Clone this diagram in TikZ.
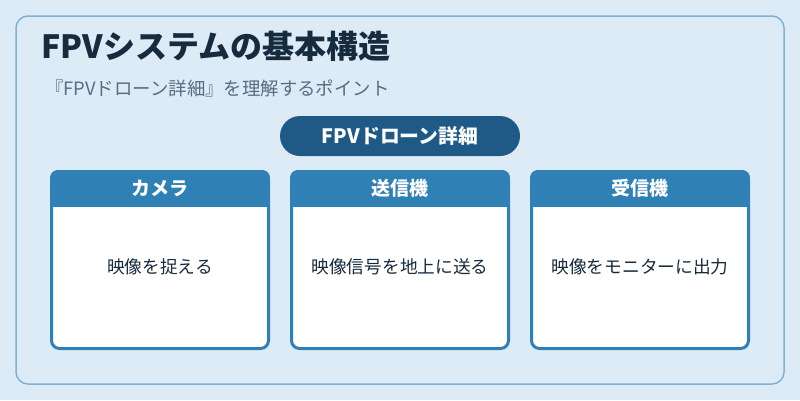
\documentclass[tikz,border=0pt]{standalone}
\usepackage{fontspec}
\setmainfont{Noto Sans CJK JP}
\usetikzlibrary{positioning}
\definecolor{bgblue}{RGB}{221,235,246}
\definecolor{edgeblue}{RGB}{126,178,214}
\definecolor{inkdark}{RGB}{22,43,61}
\definecolor{inkgray}{RGB}{84,110,130}
\definecolor{pillblue}{RGB}{31,90,135}
\definecolor{cardblue}{RGB}{46,128,181}
\begin{document}
\begin{tikzpicture}[x=1pt,y=-1pt,
	card/.style={draw=cardblue,line width=3pt,fill=white,rounded corners=8pt,minimum width=217pt,minimum height=177pt,inner sep=0pt},
	hdr/.style={font=\bfseries\fontsize{19}{22}\selectfont,text=white},
	body/.style={font=\fontsize{17.7}{20}\selectfont,text=inkdark}]
	\fill[bgblue] (0,0) rectangle (800,400);
	\draw[edgeblue,line width=1.5pt,rounded corners=12pt] (16,16) rectangle (784,384);
	\node[anchor=base west,inner sep=0pt,text=inkdark,font=\bfseries\fontsize{32}{36}\selectfont] (title) at (41,58) {FPVシステムの基本構造};
	\node[anchor=base west,inner sep=0pt,text=inkgray,font=\fontsize{18.4}{21}\selectfont] (sub) at (45,95) {『FPVドローン詳細』を理解するポイント};
	\node[fill=pillblue,rounded corners=20pt,minimum width=240pt,minimum height=40pt,text=white,font=\bfseries\fontsize{19.8}{22}\selectfont] (drone) at (400,136) {FPVドローン詳細};
	\foreach \n/\x/\h/\b in {cam/160/カメラ/映像を捉える,tx/400/送信機/映像信号を地上に送る,rx/640/受信機/映像をモニターに出力}{
		\node[card] (\n) at (\x,260) {};
		\begin{scope}
			\clip[rounded corners=8pt] (\n.north west) rectangle (\n.south east);
			\fill[cardblue] (\n.north west) rectangle ([yshift=-37pt]\n.north east);
		\end{scope}
		\node[hdr] (\n-h) at ([yshift=-18.5pt]\n.north) {\h};
		\node[body] (\n-b) at ([yshift=-7pt]\n.center) {\b};
	}
\end{tikzpicture}
\end{document}
